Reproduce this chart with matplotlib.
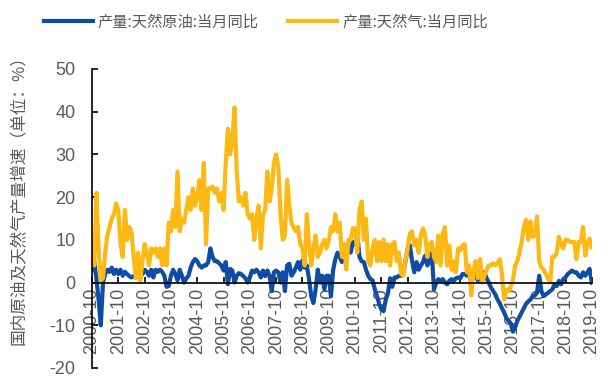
import numpy as np
import matplotlib
matplotlib.use("Agg")
import matplotlib.pyplot as plt

# 月度数据：2000-10 至 2019-10
months = [f"{y}-{m:02d}" for y in range(2000, 2020) for m in range(1, 13)]
months = months[months.index("2000-10"):months.index("2019-10") + 1]
tick_labels = [f"{y}-10" for y in range(2000, 2020)]

# 产量:天然原油:当月同比 (%)
oil = [
    3, 5, 1, -4, -10, 0, 2, 3, 2.5, 3.5, 2, 3,
    2, 3, 1.6, 2.5, 2, 1.5, 1.2, 1.5, 1.2, 1.6, 2, 2,
    3, 2.5, 1.6, 3, 1.2, 3, 2.5, 3, 2.5, 1.6, -1, -0.8,
    1.6, 3, 2, 0.5, 3, 1.6, 0, 1, 1.6, 3.5, 4.8, 5.5,
    5, 4, 3.5, 4, 4, 4.8, 8, 6, 5, 5, 4.5, 4,
    2.8, 4.8, -0.4, 3.2, 2.8, 0, 1.6, 2.2, 2, 1.5, 1, 0,
    1.2, 2.8, 2.4, 3, 2.4, 1.2, 2.8, 1.5, 2.8, 1.6, -2, 2.4,
    2.8, 2.4, 0, 2.4, -2, 4, 4.4, 1.6, 2.4, 3.5, 4.8, 3,
    5.2, 3.5, 4, 0.8, -3.2, -4.8, -1.6, 3, 0, 1.6, -1.6, 1.6,
    1.6, -3.2, 3, 5.5, 7, 6, 4.8, 7, 6, 8, 7, 9.5,
    9, 11.5, 6, 5, 4.8, 3, 1.6, 0.8, 0.5, -1.6, -3.2, -5,
    -6.3, -6.7, -4, -2.5, 1, -1, 1.2, 1.2, 1.6, 1.6, 2.4, 5,
    8, 8.7, 5, 2.4, 4.8, 3, 4, 4.8, 6.3, 4, 5, 7,
    -1.6, 0, 0.8, 0.4, 0.8, 0, -0.4, 0.4, 0.8, 0.4, 1, 1.2,
    1, 2, 2, 1.6, 2.4, 2.8, 2.8, 1.5, 0.5, 2, 2.4, 2.4,
    1, 0, -1.2, -2, -2.8, -4, -4.8, -6, -7, -8.3, -9, -9.5,
    -11.5, -10.5, -9, -8, -7, -6, -5, -4.4, -4, -3.2, -3, -2.4,
    1.6, -2, -3.2, -2.8, -2.4, -2, -1.6, -0.4, -0.8, 0.4, -0.4, 0.8,
    1.2, 2, 2.4, 2.8, 2.4, 2.4, 1.6, 1.2, 2.4, 1.6, 2.4, 3.2,
    0,
]

# 产量:天然气:当月同比 (%)
gas = [
    10, 4, 21, 8, 0.5, 1, 7, 11, 13, 15, 16, 18.5,
    17, 9, 6, 17, 10, 13, 12, 6, 1, 7, 0.5, 5,
    9, 7, 4, 8, 7, 8, 6, 8, 4, 8, 4, 14,
    12, 17, 13, 26, 12, 15, 14, 17, 20, 17, 22, 18,
    20, 24, 17, 28, 9, 22, 22, 22.5, 21, 22, 19, 21,
    17, 28, 36, 30, 33, 41, 26, 19, 20, 18, 21, 16,
    15, 16, 10, 15, 18, 8, 16, 17, 26, 19, 22, 28,
    30, 27, 16, 10, 11, 24, 18, 14, 13, 12, 13, 9,
    8, 4, 16, 9, 4, 8, 11, 6, 7, 9, 10, 8,
    10, 13, 12, 16, 12, 14, 6, 9, 3, 10, 10, 12.7,
    12.7, 7, 17, 19, 10, 15, 5, 4, 8, 10, 5, 9.5,
    5, 10, 5, 9, 4, 9, 9.5, 5, 7, 2, 1.6, 5,
    8, 11.5, 12, 8.7, 10, 7, 11, 12.7, 11, 6, 9, 9.5,
    6, 4.8, 11, 4, 11.5, 13, 4, 8.7, 3, 5, 2.4, 8,
    7.5, 8.7, 9, 2.4, 4, -3, 3, 5, 1, 5.5, 0, 1.6,
    3, 4, 4, 4.5, 4, 4.5, 5.5, 2, -4, -1.6, -2, -1,
    0.5, 4, 5, 7, 9.5, 13, 14.7, 10, 14.3, 10.7, 11, 15.5,
    5, 3.5, 3, 2, 1, 0, 6, 6, 7, 10.7, 9, 8,
    10, 10, 9.5, 9.5, 9.5, 5.5, 9.5, 9.5, 13, 6.3, 9, 10.3,
    8.3,
]

blue = "#0E4DA4"
gold = "#FCB813"
grey = "#595959"
cjk = ["Noto Sans CJK SC", "DejaVu Sans"]

plt.rcParams["font.family"] = ["Liberation Sans", "DejaVu Sans"]
plt.rcParams["axes.unicode_minus"] = False

fig = plt.figure(figsize=(6.11, 3.85), dpi=100)
ax = fig.add_axes([0.1506, 0.0442, 0.818, 0.7766])

# spine position first: moving it resets the ticks
for s in ("top", "right"):
    ax.spines[s].set_visible(False)
ax.spines["bottom"].set_position(("data", 0))
for s in ("left", "bottom"):
    ax.spines[s].set_linewidth(1.2)
    ax.spines[s].set_color("black")

x = np.arange(len(months))
ax.plot(x, oil, color=blue, lw=3, label="产量:天然原油:当月同比", solid_joinstyle="round")
ax.plot(x, gas, color=gold, lw=3, label="产量:天然气:当月同比", solid_joinstyle="round")

ax.set_xlim(0, len(months) - 1)
ax.set_ylim(-20, 50)
ax.set_yticks(range(-20, 51, 10))
ax.set_xticks([months.index(t) for t in tick_labels])
ax.set_xticklabels(tick_labels)

ax.tick_params(axis="y", direction="in", length=4, width=1.2, pad=12,
               labelsize=13, labelcolor=grey)
ax.tick_params(axis="x", direction="in", length=4, width=1.2, pad=4,
               labelsize=13, labelcolor=grey, labelrotation=90)

fig.text(18 / 611, 0.49, "国内原油及天然气产量增速（单位：%）", rotation=90,
         ha="center", va="center", fontsize=12, fontweight="light",
         color=grey, family=cjk)

leg = fig.legend(loc="center", bbox_to_anchor=(0.435, 0.943), ncol=2, frameon=False,
                 handlelength=3.2, handletextpad=0.35, columnspacing=1.9,
                 prop={"family": cjk, "size": 11, "weight": "light"})
for t in leg.get_texts():
    t.set_color(grey)

fig.savefig("out.png", dpi=100)
